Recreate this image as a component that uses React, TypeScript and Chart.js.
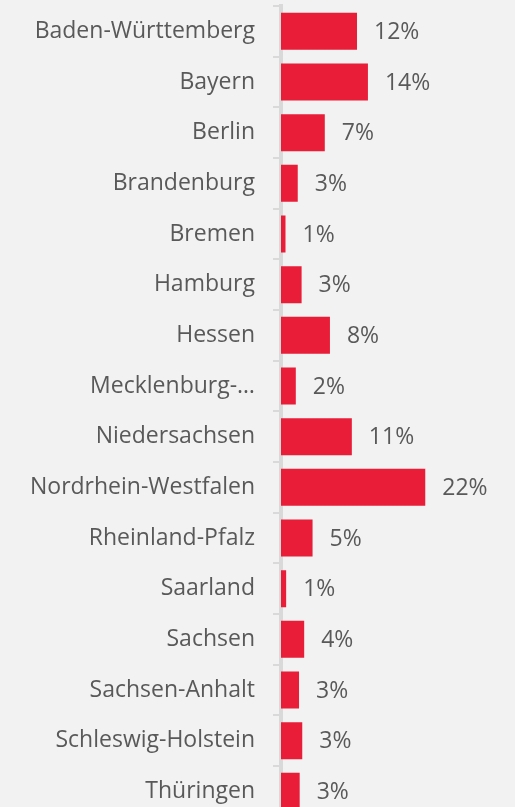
import React, { useEffect, useRef } from "react";
import { Chart, registerables } from "chart.js";

Chart.register(...registerables);

const categories: string[] = [
  "Baden-Württemberg",
  "Bayern",
  "Berlin",
  "Brandenburg",
  "Bremen",
  "Hamburg",
  "Hessen",
  "Mecklenburg-…",
  "Niedersachsen",
  "Nordrhein-Westfalen",
  "Rheinland-Pfalz",
  "Saarland",
  "Sachsen",
  "Sachsen-Anhalt",
  "Schleswig-Holstein",
  "Thüringen",
];

const shares: number[] = [11.8, 13.5, 6.8, 2.6, 0.7, 3.2, 7.6, 2.3, 11.0, 22.4, 4.9, 0.8, 3.6, 2.8, 3.3, 2.9];

const BAR_COLOR = "#E91D37";
const TEXT_COLOR = "#595959";
const AXIS_COLOR = "#D9D9D9";
const FONT_FAMILY = "'Open Sans', 'Noto Sans', sans-serif";
const FONT_SIZE = 23;

const valueLabels = {
  id: "valueLabels",
  afterDatasetsDraw(chart: any) {
    const ctx = chart.ctx;
    const meta = chart.getDatasetMeta(0);
    const data = chart.data.datasets[0].data as number[];
    ctx.save();
    ctx.font = `${FONT_SIZE}px ${FONT_FAMILY}`;
    ctx.fillStyle = TEXT_COLOR;
    ctx.textAlign = "left";
    ctx.textBaseline = "middle";
    meta.data.forEach((bar: any, i: number) => {
      ctx.fillText(`${Math.round(data[i])}%`, bar.x + 17, bar.y + 1);
    });
    ctx.restore();
  },
};

export default function App() {
  const ref = useRef<HTMLCanvasElement | null>(null);

  useEffect(() => {
    if (!ref.current) return;
    const chart = new Chart(ref.current, {
      type: "bar",
      data: {
        labels: categories,
        datasets: [
          {
            data: shares,
            backgroundColor: BAR_COLOR,
            borderWidth: 0,
            barPercentage: 0.73,
            categoryPercentage: 1,
          },
        ],
      },
      options: {
        indexAxis: "y",
        responsive: false,
        animation: false,
        devicePixelRatio: 1,
        layout: { padding: { top: 6, bottom: 13.3, left: 0, right: 73 } },
        plugins: {
          legend: { display: false },
          tooltip: { enabled: false },
        },
        scales: {
          x: {
            display: false,
            min: 0,
            max: 25,
          },
          y: {
            afterFit: (scale: any) => {
              scale.width = 281;
              scale.paddingTop = 0;
              scale.paddingBottom = 0;
            },
            grid: {
              drawOnChartArea: false,
              drawTicks: true,
              tickLength: 8,
              color: AXIS_COLOR,
              lineWidth: 2,
            },
            border: { display: true, color: AXIS_COLOR, width: 4 },
            ticks: {
              color: TEXT_COLOR,
              padding: 18,
              font: { family: FONT_FAMILY, size: FONT_SIZE },
              autoSkip: false,
            },
          },
        },
      },
      plugins: [valueLabels],
    });
    return () => chart.destroy();
  }, []);

  return (
    <div
      style={{
        position: "fixed",
        left: 0,
        top: 0,
        width: 515,
        height: 807,
        overflow: "hidden",
        background: "#F2F2F2",
      }}
    >
      <canvas ref={ref} width={515} height={830} style={{ display: "block" }} />
    </div>
  );
}
